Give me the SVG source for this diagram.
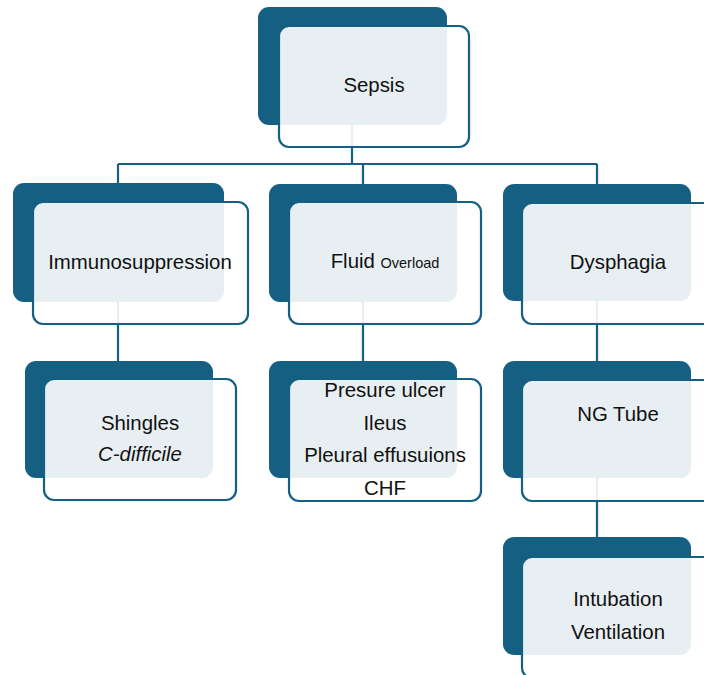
<svg xmlns="http://www.w3.org/2000/svg" width="704" height="675" viewBox="0 0 704 675">
<style>
.a{fill:#156082}
.b{fill:#ffffff;fill-opacity:0.9;stroke:#156082;stroke-width:2.2}
.c{stroke:#156082;stroke-width:2.2;fill:none}
.t{font-family:"Liberation Sans",Arial,sans-serif;font-size:20.4px;fill:#111111;text-anchor:middle}
.i{font-style:italic}
</style>
<rect width="704" height="675" fill="#ffffff"/>
<g id="connectors" class="c">
<path d="M352,125 V164 M118,164 H597 M118,164 V184 M363,164 V184 M597,164 V184"/>
<path d="M118,302 V361 M363,302 V361 M597,301 V361 M597,478 V537"/>
</g>
<g id="sepsis">
<rect class="a" x="258" y="7" width="189" height="118" rx="11"/>
<rect class="b" x="279" y="26" width="190" height="121" rx="10"/>
<text class="t" x="374" y="92">Sepsis</text>
</g>
<g id="immunosuppression">
<rect class="a" x="13" y="183" width="211" height="119" rx="11"/>
<rect class="b" x="33" y="202" width="215" height="122" rx="10"/>
<text class="t" x="140" y="269" font-size="21">Immunosuppression</text>
</g>
<g id="fluid-overload">
<rect class="a" x="269" y="184" width="188" height="118" rx="11"/>
<rect class="b" x="289" y="202" width="192" height="122" rx="10"/>
<text class="t" x="385" y="268">Fluid <tspan font-size="14.5">Overload</tspan></text>
</g>
<g id="dysphagia">
<rect class="a" x="503" y="184" width="188" height="117" rx="11"/>
<rect class="b" x="522" y="203" width="192" height="121" rx="10"/>
<text class="t" x="618" y="269">Dysphagia</text>
</g>
<g id="shingles">
<rect class="a" x="25" y="361" width="188" height="117" rx="11"/>
<rect class="b" x="44" y="379" width="192" height="121" rx="10"/>
<text class="t" x="140" y="430">Shingles</text>
<text class="t i" x="140" y="461">C-difficile</text>
</g>
<g id="fluid-complications">
<rect class="a" x="269" y="361" width="188" height="117" rx="11"/>
<rect class="b" x="289" y="379" width="192" height="122" rx="10"/>
<text class="t" x="385" y="397">Presure ulcer</text>
<text class="t" x="385" y="430">Ileus</text>
<text class="t" x="385" y="462">Pleural effusuions</text>
<text class="t" x="385" y="495">CHF</text>
</g>
<g id="ng-tube">
<rect class="a" x="503" y="361" width="188" height="117" rx="11"/>
<rect class="b" x="522" y="380" width="192" height="121" rx="10"/>
<text class="t" x="618" y="421">NG Tube</text>
</g>
<g id="intubation">
<rect class="a" x="503" y="537" width="188" height="118" rx="11"/>
<rect class="b" x="522" y="557" width="192" height="121" rx="10"/>
<text class="t" x="618" y="606">Intubation</text>
<text class="t" x="618" y="639">Ventilation</text>
</g>
</svg>
